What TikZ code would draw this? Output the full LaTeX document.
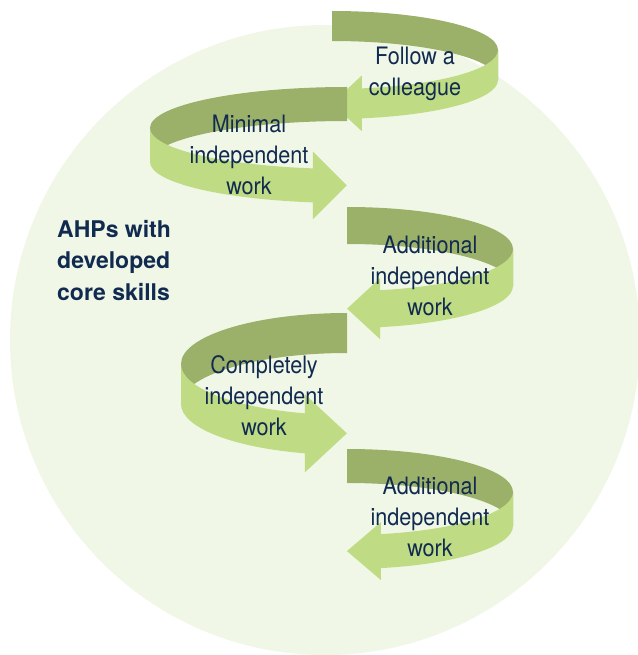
\documentclass[tikz,border=0pt]{standalone}
\usepackage{fontspec}
\usepackage{xcolor}
\usetikzlibrary{positioning}
\newfontfamily\stagefont{TeX Gyre Heros}[FakeStretch=0.9]
\newfontfamily\headfont{TeX Gyre Heros}
\definecolor{ahpcircle}{HTML}{F0F7E6}
\definecolor{ahpdark}{HTML}{9BB068}
\definecolor{ahplight}{HTML}{BFDC84}
\definecolor{ahpnavy}{HTML}{112A50}
% #1 cx, #2 cy (down), #3 x radius, #4 y radius, #5 band, #6 side (1 right, -1 left),
% #7 angle at head base, #8 head length, #9 head overhang
\newcommand{\ribbon}[9]{%
  \fill[backband] (#1,{-(#2-#4)})
    arc[start angle=90, end angle={90-90*(#6)}, x radius=#3, y radius=#4]
    -- ++(0,-#5)
    arc[start angle={90-90*(#6)}, end angle=90, x radius=#3, y radius=#4] -- cycle;
  \fill[frontband] ({#1+(#6)*#3},-#2)
    arc[start angle={90-90*(#6)}, end angle=#7, x radius=#3, y radius=#4]
    -- ++(0,#9) -- ++({-(#6)*#8},{-#9-#5/2}) -- ++({(#6)*#8},{-#9-#5/2}) -- ++(0,#9)
    arc[start angle=#7, end angle={90-90*(#6)}, x radius=#3, y radius=#4] -- cycle;
}

\begin{document}
\begin{tikzpicture}[
    x=1pt, y=1pt,
    backband/.style={fill=ahpdark},
    frontband/.style={fill=ahplight},
    stagetext/.style={
        anchor=base, align=center, inner sep=0pt, text=ahpnavy,
        font=\stagefont\fontsize{24}{31}\selectfont
    },
    headtext/.style={
        anchor=base west, align=left, inner sep=0pt, text=ahpnavy,
        font=\headfont\bfseries\fontsize{23}{31.5}\selectfont
    }
]
\useasboundingbox (0,0) rectangle (637,-655);
\fill[white] (0,0) rectangle (637,-655);
\fill[ahpcircle] (325,-340) circle[radius=315];

% the spiral, top to bottom
\ribbon{332}{50}{166}{39}{30}{1}{-79.6}{30}{13}
\ribbon{347}{128}{197}{41}{34}{-1}{260}{34}{17}
\ribbon{347}{249}{166}{42}{37}{1}{-78.5}{33}{12}
\ribbon{347}{364}{166}{51}{40}{-1}{255.3}{42}{19}
\ribbon{347}{492}{166}{43}{34}{1}{-78.2}{34}{12}

% texts, placed at the baseline of their last line
\node[headtext]  (ahps)     at (57,-300)  {AHPs with\\developed\\core skills};
\node[stagetext] (follow)   at (415,-96)  {Follow a\\colleague};
\node[stagetext] (minimal)  at (249,-194) {Minimal\\independent\\work};
\node[stagetext] (addone)   at (430,-315) {Additional\\independent\\work};
\node[stagetext] (complete) at (264,-435) {Completely\\independent\\work};
\node[stagetext] (addtwo)   at (430,-556) {Additional\\independent\\work};
\end{tikzpicture}
\end{document}
